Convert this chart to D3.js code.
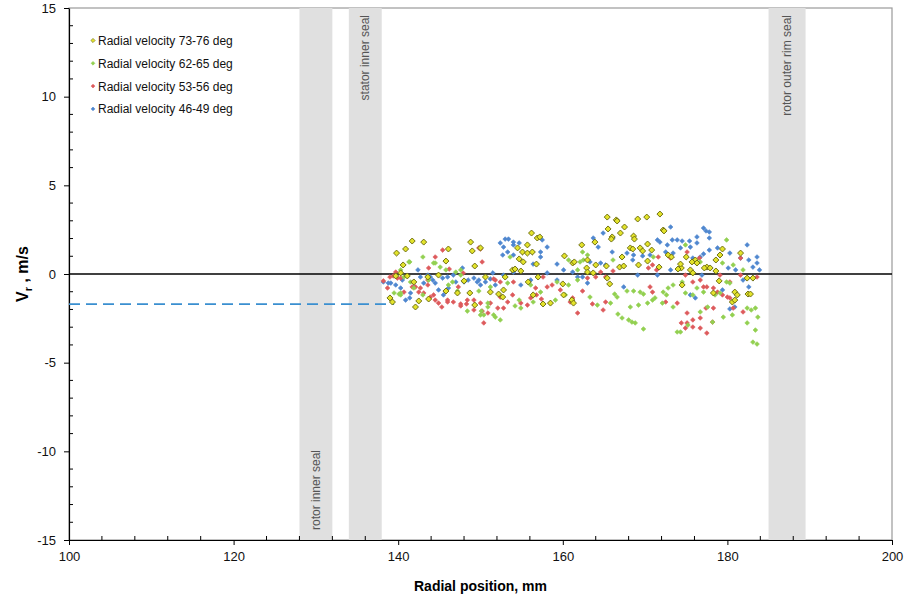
<!DOCTYPE html>
<html>
<head>
<meta charset="utf-8">
<script src="https://cdn.jsdelivr.net/npm/d3@7"></script>
<style>
  html, body { margin: 0; padding: 0; background: #fff; }
  svg { display: block; font-family: "Liberation Sans", Arial, sans-serif; }
</style>
</head>
<body>
<svg id="chart" width="908" height="600"></svg>
<script>
// Radial velocity measurements, [radial position mm, Vr m/s]
const vel7376 = [
  [141.7,1.86],[143.1,1.80],[139.8,1.18],[140.9,1.41],[140.6,0.51],[148.8,1.80],[149.0,1.30],[146.1,1.41],[145.8,0.73],[149.3,0.45],
  [139.0,-1.35],[139.3,-1.58],[142.1,-1.86],[142.5,-1.52],[143.7,-1.41],[145.8,-0.96],[147.2,-1.07],[148.7,-1.07],[149.3,-1.75],[148.0,-0.39],
  [144.9,-0.06],[143.6,-0.17],[141.1,-0.11],[139.7,-0.11],[140.3,0.06],[141.9,-0.45],
  [156.2,2.31],[156.9,2.03],[157.2,2.09],[154.5,1.47],[155.1,1.24],[155.7,1.18],[156.3,1.24],[155.7,1.64],[154.7,0.85],[155.2,0.68],
  [156.8,0.56],[160.2,1.02],[161.2,0.62],[161.4,0.68],[162.3,1.64],[153.9,0.23],[154.2,0.28],[154.9,0.17],[150.6,-0.17],[153.0,-0.17],
  [155.8,-0.45],[157.0,-0.17],[151.2,-1.02],[152.2,-1.13],[152.7,-1.30],[152.8,-0.90],[156.4,-1.18],[157.6,-1.69],[158.5,-1.64],[160.0,-0.56],
  [160.1,-1.18],[161.1,-1.47],[161.3,-1.64],[150.0,1.47],
  [165.4,3.21],[166.5,3.05],[166.6,2.99],[169.1,3.10],[170.2,3.21],[171.8,3.38],[167.5,2.65],[165.5,2.54],[166.0,2.09],[165.9,1.97],
  [167.0,2.31],[168.6,2.14],[168.7,1.97],[163.9,1.80],[168.2,1.47],[168.5,1.41],[169.4,1.47],[170.3,1.69],[169.7,1.30],[170.8,1.35],
  [172.2,2.48],[172.3,2.43],[167.2,0.96],[172.8,1.07],[173.2,0.96],[163.0,0.79],[164.0,0.51],[165.3,0.45],[166.9,0.39],[167.4,0.45],
  [169.2,0.51],[170.3,0.73],[171.7,0.39],[174.4,0.34],[174.0,0.28],[162.9,0.34],[165.7,-0.56],[174.5,-0.62],[163.0,0.11],[163.7,0.06],
  [165.4,-0.23],
  [179.4,1.41],[181.6,1.18],[175.0,0.96],[176.1,0.79],[176.3,0.62],[175.7,0.68],[177.5,0.39],[177.2,0.34],[178.6,0.79],[179.1,1.07],
  [174.3,0.56],[175.5,0.23],[175.8,0.06],[178.6,0.17],[182.4,-0.23],[183.1,-0.23],[179.0,-0.39],[180.9,-1.02],[181.2,-1.18],[182.5,-1.13],
  [182.8,-1.13],[180.6,-1.58],[180.9,-1.47],[178.3,-1.07],[177.9,0.34]
];

const vel6265 = [
  [141.4,0.68],[143.0,0.96],[144.3,0.62],[145.1,0.39],[139.5,-1.07],[140.1,-1.13],[140.3,-1.18],[141.5,-0.45],[143.7,-0.34],[146.1,-0.62],
  [146.6,-0.45],[147.6,-0.06],[148.4,-2.09],[150.1,-2.09],[150.4,-2.31],[149.8,-0.96],[147.2,-0.96],[141.9,-0.79],[143.0,-1.18],[140.7,-0.17],
  [145.8,0.23],[147.0,0.11],[140.3,0.23],[141.3,0.68],[144.5,0.62],[147.6,0.23],[150.9,-1.64],[151.8,-2.43],[150.0,-2.31],[140.3,-1.07],
  [153.6,0.96],[151.2,-0.73],[150.9,-1.86],[151.6,-2.31],[152.4,-2.59],[154.2,-1.80],[154.7,-1.47],[156.4,-1.58],[154.9,-1.92],[158.5,-1.64],
  [159.1,-1.47],[160.3,-1.18],[160.7,-0.62],[161.8,-0.34],[162.1,0.68],[160.7,0.79],[161.8,0.23],[159.3,-0.45],[157.3,-1.02],[156.1,-0.62],
  [153.3,-0.51],
  [162.4,1.24],[163.0,1.07],[162.5,0.79],[163.3,-1.30],[164.2,-1.75],[165.8,-1.64],[166.3,-1.13],[166.7,-2.26],[167.2,-2.48],[168.0,-2.59],
  [168.4,-2.71],[168.8,-2.76],[168.2,-1.86],[169.2,-1.75],[166.6,-1.30],[167.8,-0.96],[168.6,-0.96],[169.4,-1.02],[169.8,-1.13],[170.3,-1.64],
  [170.9,-1.47],[171.2,-1.35],[172.2,-1.02],[172.6,-1.18],[172.8,-0.79],[173.4,-0.62],[172.1,-1.64],[173.4,-1.86],[173.9,-3.27],[174.3,-3.27],
  [169.8,-3.10],[166.1,0.79],[171.0,0.96],[174.5,-0.45],
  [179.9,1.92],[179.4,0.62],[180.7,0.51],[181.9,0.23],[174.9,-1.07],[175.8,-1.18],[177.1,-1.02],[178.5,-1.18],[179.1,-1.07],[179.9,-0.45],
  [180.3,-0.51],[182.4,-1.92],[182.9,-2.03],[183.4,-1.92],[183.7,-2.43],[177.6,-1.86],[176.7,-2.14],[178.2,-2.71],[179.5,-2.43],[180.6,-2.31],
  [182.4,-2.76],[183.4,-3.16],[183.1,-3.84],[183.6,-3.95],[175.2,-2.88],[176.3,-0.79],[174.9,1.64],[176.7,0.68]
];

const vel5356 = [
  [138.2,-0.39],[139.0,-0.17],[139.4,-0.11],[139.9,-0.23],[140.3,-0.23],[138.7,-0.79],[141.7,-0.73],[142.5,-1.02],[143.1,-1.07],[143.6,-0.62],
  [144.3,-1.18],[144.9,-1.64],[145.3,-1.86],[146.0,-1.58],[146.7,-1.58],[147.6,-1.69],[148.3,-1.69],[149.2,-1.47],[145.4,1.35],[144.5,0.96],
  [146.2,0.28],[147.9,0.05],[149.8,1.47],[150.0,1.41],[150.2,0.68],[150.4,-2.76],[143.7,0.34],[147.3,-0.73],[140.7,-1.02],
  [139.7,0.11],[142.1,-0.73],[142.7,-0.79],[143.9,-1.30],[144.5,-1.47],[146.0,-1.47],[147.6,-1.80],[148.4,-1.47],[149.2,-2.03],[150.0,-1.64],
  [150.9,-2.20],[143.6,-0.34],[151.8,-0.34],[152.4,-1.30],
  [150.2,-2.09],[151.2,-1.64],[152.1,-1.92],[152.8,-1.92],[153.3,-1.58],[153.9,-1.18],[154.9,-1.64],[155.7,-1.75],[156.1,-1.35],[156.8,-1.18],
  [157.4,-1.41],[156.7,-0.79],[158.1,-0.73],[158.7,-0.62],[159.7,-0.90],[160.9,-1.58],[161.2,-1.35],[161.8,-2.20],[157.6,-0.17],[152.4,-0.45],
  [151.6,-0.28],[154.0,-0.45],
  [162.4,-0.96],[163.6,-1.69],[165.2,-1.58],[164.9,-2.03],[163.0,-0.23],[164.0,-0.17],[164.6,0.11],[165.2,-0.17],[166.1,0.17],[170.4,0.34],
  [170.9,0.51],[171.4,0.23],[170.9,-1.02],[172.5,-1.58],[173.9,-1.64],[171.6,0.96],[173.1,0.90],[174.4,-2.76],[170.6,-0.73],
  [175.1,1.24],[174.9,-0.06],[175.8,-0.45],[176.7,-0.34],[177.1,-0.73],[177.5,-0.73],[178.3,-0.79],[178.8,-1.02],[179.4,-1.18],[180.0,-1.30],
  [180.3,-1.35],[176.6,0.90],[179.1,-0.06],[180.3,-0.45],[181.6,-0.06],[175.1,-2.20],[175.8,-2.59],[176.7,-2.48],[177.4,-1.92],[178.3,-1.92],
  [178.2,-2.71],[177.5,-3.33],[176.7,-3.05],[175.8,-2.99],[175.1,-2.76],[174.9,-3.05],[181.9,-2.14],[180.7,-1.92],[181.6,0.90],[183.6,-0.17]
];

const vel4649 = [
  [139.1,-0.51],[139.7,-0.62],[140.5,-0.34],[140.9,-1.47],[141.4,-1.35],[142.4,0.23],[142.7,-0.17],[143.6,-0.06],[144.2,-0.34],[144.5,-0.51],
  [145.4,-0.23],[146.0,-0.17],[146.7,-0.06],[147.8,0.34],[148.0,-0.45],[148.5,-0.34],[149.2,-0.23],[149.6,-0.45],[150.0,-0.62],[145.5,-1.18],
  [141.9,-0.73],[140.3,-0.79],[143.1,-0.51],[144.9,-0.90],[138.2,-0.45],[138.8,-0.51],[141.5,-1.07],[143.9,-0.17],[146.1,-0.79],[147.0,-0.45],
  [149.8,-0.34],[151.5,0.06],[152.4,1.75],[153.0,1.97],[154.0,1.64],
  [153.4,1.97],[154.0,1.80],[154.7,1.75],[152.8,1.52],[153.3,1.24],[152.7,1.07],[154.0,1.07],[157.3,0.96],[158.1,1.52],[157.3,1.24],
  [156.4,0.56],[159.3,0.56],[160.1,0.23],[161.2,0.11],[161.8,-0.17],[150.6,-0.45],[151.2,-0.28],[152.8,-0.06],[151.8,-0.62],[154.9,-0.62],
  [156.1,-0.34],[158.1,0.06],[154.0,0.11],[159.3,-0.34],[157.5,1.92],
  [163.7,2.03],[164.3,1.52],[164.9,2.31],[166.1,2.03],[166.0,1.24],[163.3,0.68],[164.6,0.62],[165.2,0.51],[167.8,1.18],[168.6,1.07],
  [168.5,0.79],[169.7,1.02],[170.6,1.07],[171.5,1.92],[171.8,1.80],[172.7,1.64],[173.1,2.65],[173.3,1.92],[173.9,1.92],[174.3,1.47],
  [172.5,1.24],[173.4,1.18],[169.1,-0.06],[167.4,-0.73],[171.5,-0.06],[162.4,-0.17],[163.0,-0.51],[173.1,0.23],
  [177.1,2.59],[177.4,2.43],[177.8,2.37],[176.3,2.09],[177.8,2.03],[175.4,1.86],[174.5,1.86],[176.3,1.75],[175.5,1.52],[178.8,1.47],
  [177.8,1.35],[182.4,1.64],[177.1,1.13],[176.7,0.96],[175.8,0.90],[180.3,1.18],[181.6,0.90],[182.6,0.79],[183.6,0.96],[183.6,0.62],
  [183.1,0.39],[183.9,0.23],[181.0,0.23],[180.1,0.34],[181.9,-0.34],[182.6,-0.73],[179.4,-0.90],[180.3,-1.97],[180.9,-1.86],[175.5,-1.18],
  [176.1,-1.35],[176.9,-0.06]
];

const seriesNames = [
  "Radial velocity 73-76 deg",
  "Radial velocity 62-65 deg",
  "Radial velocity 53-56 deg",
  "Radial velocity 46-49 deg"
];
const seriesColors = ["#e3e32a", "#92d050", "#dd5a5c", "#4f87cf"];

// Seal locations (radial extent, mm) shown as shaded bands
const sealNames = ["rotor inner seal", "stator inner seal", "rotor outer rim seal"];
const sealStart = [128, 134, 185];
const sealEnd = [132, 138, 189.5];
const sealLabelAtTop = [false, true, true];

// Reference level of inlet radial velocity (dashed line)
const inletRadius = [100, 139.5];
const inletVr = -1.7;

const xTicks = [100, 120, 140, 160, 180, 200];
const yTicks = [-15, -10, -5, 0, 5, 10, 15];

const svg = d3.select("#chart");
const margin = { left: 69, right: 16, top: 8, bottom: 60 };
const W = 908, H = 600;
const x = d3.scaleLinear().domain([100, 200]).range([margin.left, W - margin.right]);
const y = d3.scaleLinear().domain([-15, 15]).range([H - margin.bottom, margin.top]);

// Plot frame
svg.append("rect")
  .attr("x", x(100)).attr("y", y(15))
  .attr("width", x(200) - x(100)).attr("height", y(-15) - y(15))
  .attr("fill", "#fff").attr("stroke", "#9a9a9a").attr("stroke-width", 1.2);

// Seal bands
sealNames.forEach((name, i) => {
  svg.append("rect")
    .attr("x", x(sealStart[i])).attr("y", y(15))
    .attr("width", x(sealEnd[i]) - x(sealStart[i]))
    .attr("height", y(-15) - y(15))
    .attr("fill", "#e0e0e0");
  const cx = (x(sealStart[i]) + x(sealEnd[i])) / 2 + 4;
  const ty = sealLabelAtTop[i] ? y(15) + 7 : y(-15) - 10;
  svg.append("text")
    .attr("transform", `translate(${cx},${ty}) rotate(-90)`)
    .attr("text-anchor", sealLabelAtTop[i] ? "end" : "start")
    .attr("font-size", 12)
    .attr("fill", "#555")
    .text(name);
});

// Minor ticks (inside)
const xMinor = d3.range(100, 201, 4).filter(v => !xTicks.includes(v));
const yMinor = d3.range(-15, 16, 1).filter(v => !yTicks.includes(v));
svg.append("g").selectAll("line").data(xMinor).join("line")
  .attr("x1", d => x(d)).attr("x2", d => x(d))
  .attr("y1", y(-15)).attr("y2", y(-15) - 4)
  .attr("stroke", "#000").attr("stroke-width", 1);
svg.append("g").selectAll("line").data(yMinor).join("line")
  .attr("x1", x(100)).attr("x2", x(100) + 4)
  .attr("y1", d => y(d)).attr("y2", d => y(d))
  .attr("stroke", "#000").attr("stroke-width", 1);

// Axes
const fmt = d => String(d);
const xAxis = svg.append("g")
  .attr("transform", `translate(0,${y(-15)})`)
  .call(d3.axisBottom(x).tickValues(xTicks).tickFormat(fmt).tickSizeInner(5).tickSizeOuter(0).tickPadding(7));
const yAxis = svg.append("g")
  .attr("transform", `translate(${x(100)},0)`)
  .call(d3.axisLeft(y).tickValues(yTicks).tickFormat(fmt).tickSizeInner(5).tickSizeOuter(0).tickPadding(8));
[xAxis, yAxis].forEach(g => {
  g.select(".domain").attr("stroke", "#000").attr("stroke-width", 1.2);
  g.selectAll(".tick line").attr("stroke", "#000");
  g.selectAll(".tick text").attr("font-size", 13).attr("fill", "#111")
    .attr("font-family", "'Liberation Sans', Arial, sans-serif");
});

// Zero line
svg.append("line")
  .attr("x1", x(100)).attr("x2", x(200))
  .attr("y1", y(0)).attr("y2", y(0))
  .attr("stroke", "#000").attr("stroke-width", 1.5);

// Inlet dashed reference
svg.append("line")
  .attr("x1", x(inletRadius[0])).attr("x2", x(inletRadius[1]))
  .attr("y1", y(inletVr)).attr("y2", y(inletVr))
  .attr("stroke", "#3a8fd0").attr("stroke-width", 1.6)
  .attr("stroke-dasharray", "11,6");

// Markers
const diamond = (s) => d3.symbol().type(d3.symbolSquare).size(s)();
const seriesData = [vel7376, vel6265, vel5356, vel4649];
const drawOrder = [3, 2, 1, 0];
drawOrder.forEach(i => {
  const isMain = i === 0;
  svg.append("g").selectAll("path").data(seriesData[i]).join("path")
    .attr("transform", d => `translate(${x(d[0])},${y(d[1])}) rotate(45)`)
    .attr("d", diamond(isMain ? 18 : 11))
    .attr("fill", seriesColors[i])
    .attr("stroke", isMain ? "#6b6b10" : seriesColors[i])
    .attr("stroke-width", isMain ? 0.9 : 0.6)
    .attr("stroke-linejoin", "round");
});

// Legend
const legend = svg.append("g");
seriesNames.forEach((name, i) => {
  const ly = 40.5 + i * 22.8;
  legend.append("path")
    .attr("transform", `translate(93,${ly}) rotate(45)`)
    .attr("d", diamond(i === 0 ? 9 : 7))
    .attr("fill", seriesColors[i])
    .attr("stroke", i === 0 ? "#6b6b10" : seriesColors[i])
    .attr("stroke-width", 0.6);
  legend.append("text")
    .attr("x", 98).attr("y", ly + 4.5)
    .attr("font-size", 12).attr("fill", "#111")
    .text(name);
});

// Axis titles
svg.append("text")
  .attr("x", (x(100) + x(200)) / 2).attr("y", 591)
  .attr("text-anchor", "middle")
  .attr("font-size", 14).attr("font-weight", "bold")
  .text("Radial position, mm");

const yTitle = svg.append("text")
  .attr("transform", `translate(28,${(y(15) + y(-15)) / 2}) rotate(-90)`)
  .attr("text-anchor", "middle")
  .attr("font-size", 16).attr("font-weight", "bold");
yTitle.append("tspan").text("V");
yTitle.append("tspan").attr("font-size", 11).attr("dy", 4).text("r");
yTitle.append("tspan").attr("dy", -4).text(" , m/s");
</script>
</body>
</html>
